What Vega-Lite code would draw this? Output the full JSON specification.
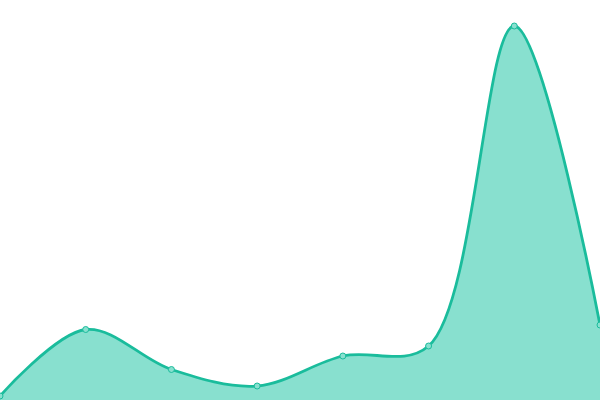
{
  "$schema": "https://vega.github.io/schema/vega-lite/v6.json",
  "width": 600,
  "height": 400,
  "autosize": {"type": "none"},
  "padding": 0,
  "background": "white",
  "config": {"view": {"stroke": null}},
  "data": {
    "values": [
      {"i": 0, "v": 4},
      {"i": 1, "v": 70.5},
      {"i": 2, "v": 30.5},
      {"i": 3, "v": 14},
      {"i": 4, "v": 44},
      {"i": 5, "v": 54},
      {"i": 6, "v": 374},
      {"i": 7, "v": 75}
    ]
  },
  "encoding": {
    "x": {"field": "i", "type": "quantitative", "axis": null, "scale": {"domain": [0, 7], "nice": false, "zero": false}},
    "y": {"field": "v", "type": "quantitative", "axis": null, "scale": {"domain": [0, 400], "nice": false}}
  },
  "layer": [
    {
      "mark": {"type": "area", "interpolate": "catmull-rom", "color": "#88e0cf", "opacity": 1}
    },
    {
      "mark": {"type": "line", "interpolate": "catmull-rom", "color": "#1abc9c", "strokeWidth": 2.8}
    },
    {
      "mark": {"type": "point", "filled": true, "size": 36, "fill": "#88e0cf", "stroke": "#1abc9c", "strokeWidth": 1, "opacity": 1}
    }
  ]
}
